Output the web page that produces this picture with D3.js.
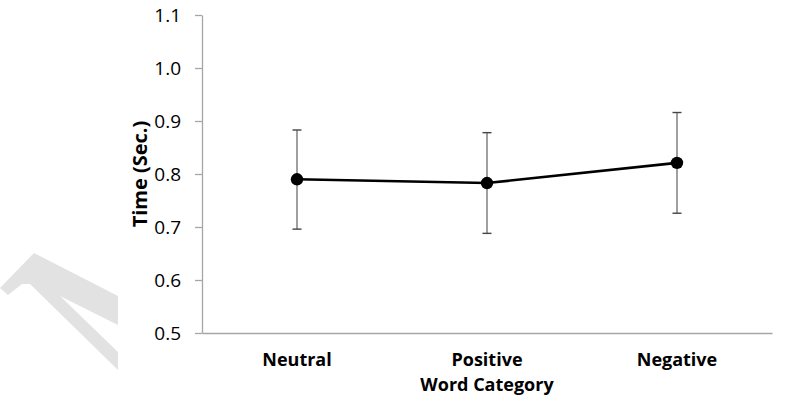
<!DOCTYPE html>
<html>
<head>
<meta charset="utf-8">
<script src="https://cdn.jsdelivr.net/npm/d3@7"></script>
<style>
  body { margin: 0; background: #fff; }
  svg { display: block; font-family: "Open Sans", "Liberation Sans", sans-serif; }
</style>
</head>
<body>
<div id="main"></div>
<script>
// chart data
const categories = ["Neutral", "Positive", "Negative"];
const means = [0.790, 0.783, 0.821];
const errUpper = [0.883, 0.878, 0.916];
const errLower = [0.696, 0.688, 0.726];
const yTicks = [0.5, 0.6, 0.7, 0.8, 0.9, 1.0, 1.1];

const width = 812, height = 396;
const plotLeft = 202, plotRight = 772, plotTop = 15, plotBottom = 333;

let svg = d3.select("#main")
  .append("svg")
  .attr("width", width)
  .attr("height", height);

// faint watermark in the corner
svg.append("path")
  .attr("d", "M0,288L34,253L118,296L118,325L60,296L118,352L118,370L30,284L22,284L8,295Z")
  .attr("fill", "#e2e2e2");

const x = d3.scaleBand().domain(categories).range([plotLeft, plotRight]);
const y = d3.scaleLinear().domain([0.5, 1.1]).range([plotBottom, plotTop]);

// y axis
let yAxis = svg.append("g")
  .attr("transform", `translate(${plotLeft},0)`)
  .call(d3.axisLeft(y).tickValues(yTicks).tickFormat(d3.format(".1f")).tickSize(7).tickSizeOuter(0).tickPadding(14));
yAxis.select(".domain").attr("stroke", "#a6a6a6").attr("stroke-width", 1.3);
yAxis.selectAll(".tick line").attr("stroke", "#a6a6a6").attr("stroke-width", 1.3);
yAxis.selectAll("text").attr("font-size", 19).attr("fill", "#000")
  .attr("font-family", "'Open Sans', sans-serif");

// x axis
let xAxis = svg.append("g")
  .attr("transform", `translate(0,${plotBottom})`)
  .call(d3.axisBottom(x).tickSize(0).tickPadding(20));
xAxis.select(".domain").attr("stroke", "#a6a6a6").attr("stroke-width", 1.3);
xAxis.selectAll("text").attr("font-size", 18).attr("font-weight", "bold").attr("fill", "#000")
  .attr("font-family", "'Open Sans', sans-serif");

const cx = (d) => x(d) + x.bandwidth() / 2;

// error bars
let eb = svg.append("g");
categories.forEach((c, i) => {
  eb.append("line")
    .attr("x1", cx(c)).attr("x2", cx(c))
    .attr("y1", y(errUpper[i])).attr("y2", y(errLower[i]))
    .attr("stroke", "#777").attr("stroke-width", 1.4);
  [errUpper[i], errLower[i]].forEach((v) => {
    eb.append("line")
      .attr("x1", cx(c) - 4.5).attr("x2", cx(c) + 4.5)
      .attr("y1", y(v)).attr("y2", y(v))
      .attr("stroke", "#444").attr("stroke-width", 1.4);
  });
});

// line + markers
let line = d3.line().x((d, i) => cx(categories[i])).y((d) => y(d));
svg.append("path")
  .datum(means)
  .attr("d", line)
  .attr("fill", "none")
  .attr("stroke", "#000")
  .attr("stroke-width", 2.6);

svg.selectAll("circle.pt")
  .data(means)
  .enter()
  .append("circle")
  .attr("class", "pt")
  .attr("cx", (d, i) => cx(categories[i]))
  .attr("cy", (d) => y(d))
  .attr("r", 6.2)
  .attr("fill", "#000");

// axis titles
svg.append("text")
  .attr("x", cx("Positive"))
  .attr("y", 390.5)
  .attr("text-anchor", "middle")
  .attr("font-size", 18)
  .attr("font-weight", "bold")
  .text("Word Category");

svg.append("text")
  .attr("transform", "translate(147,174) rotate(-90)")
  .attr("text-anchor", "middle")
  .attr("font-size", 20)
  .attr("font-weight", "bold")
  .text("Time (Sec.)");
</script>
</body>
</html>
